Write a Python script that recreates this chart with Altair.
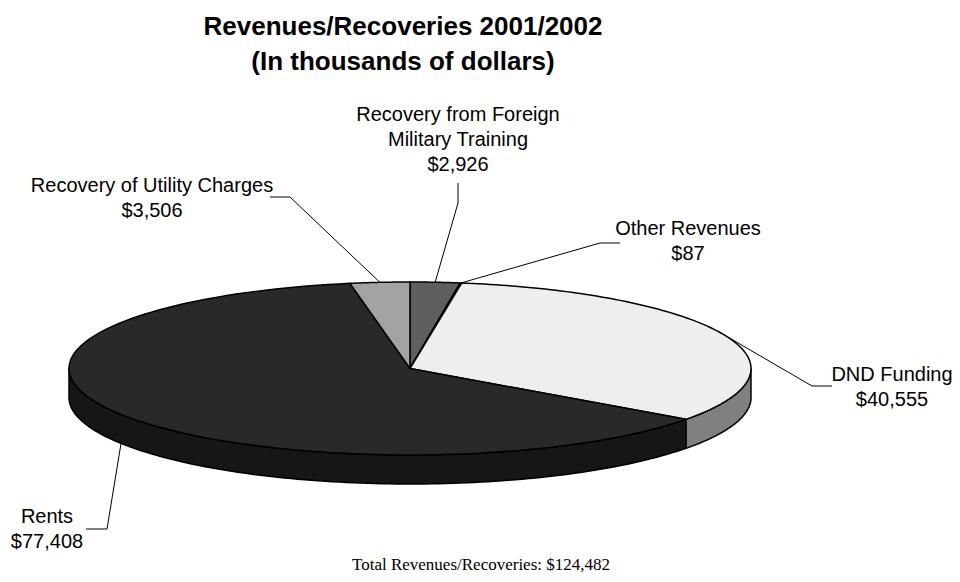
import altair as alt
import numpy as np
import pandas as pd

# ---------------- data ----------------
categories = ["Recovery from Foreign Military Training", "Other Revenues",
              "DND Funding", "Rents", "Recovery of Utility Charges"]
values = [2926, 87, 40555, 77408, 3506]
label_names = ["Recovery from Foreign\nMilitary Training", "Other Revenues",
               "DND Funding", "Rents", "Recovery of Utility Charges"]
title_lines = ["Revenues/Recoveries 2001/2002", "(In thousands of dollars)"]
footer_text = "Total Revenues/Recoveries: $124,482"

# ---------------- styles / layout ----------------
top_colors = ["#5f5f5f", "#bcbcbc", "#eeeeee", "#292929", "#a3a3a3"]
side_colors = ["#3c3c3c", "#8c8c8c", "#808080", "#161616", "#7a7a7a"]
W, H = 960, 582
CX, CY, RX, RY, DEPTH = 410, 368.5, 341, 86.5, 29
N = 120
# order: Foreign, Other, DND, Rents, Utility  (x centre, y of first line)
label_pos = [(458, 115), (688, 229), (892, 375), (47, 517), (152, 186)]
leader_end = [(458, 183), (620, 243), (832, 386), (86, 529), (270, 197)]
leader_elbow = [(458, 203), (600, 243), (812, 386), (107, 529), (290, 197)]
leader_on_rim = [False, False, False, True, False]

xs = alt.Scale(domain=[0, W], range=[0, W])
ys = alt.Scale(domain=[0, H], range=[0, H])
X = lambda f: alt.X(f, scale=xs, axis=None)
Y = lambda f: alt.Y(f, scale=ys, axis=None)

slices = pd.DataFrame({"category": categories, "value": values,
                       "order": list(range(len(values))),
                       "top": top_colors, "side": side_colors})

base = (alt.Chart(slices)
        .transform_window(cum="sum(value)", sort=[alt.SortField("order")], frame=[None, 0])
        .transform_joinaggregate(total="sum(value)")
        .transform_calculate(a1="360*datum.cum/datum.total")
        .transform_calculate(a0="360*(datum.cum-datum.value)/datum.total"))

# top faces of slices
top = (base
       .transform_calculate(idx=f"sequence(-1, {N + 1})")
       .transform_flatten(["idx"])
       .transform_calculate(rad=f"(datum.a0 + (datum.a1-datum.a0)*max(datum.idx,0)/{N})*PI/180")
       .transform_calculate(px=f"datum.idx < 0 ? {CX} : {CX} + {RX}*sin(datum.rad)")
       .transform_calculate(py=f"datum.idx < 0 ? {CY} : {CY} - {RY}*cos(datum.rad)")
       .mark_line(interpolate="linear-closed", stroke="black", strokeWidth=1.5, strokeJoin="round")
       .encode(x=X("px:Q"), y=Y("py:Q"), fill=alt.Fill("top:N", scale=None),
               detail="category:N", order="idx:Q"))

# visible sides (front half)
side = (base
        .transform_calculate(s0="max(datum.a0, 90)")
        .transform_calculate(s1="min(datum.a1, 270)")
        .transform_filter("datum.s1 > datum.s0")
        .transform_calculate(idx=f"sequence(0, {2 * N + 2})")
        .transform_flatten(["idx"])
        .transform_calculate(j=f"datum.idx <= {N} ? datum.idx : {2 * N + 1} - datum.idx")
        .transform_calculate(bottom=f"datum.idx > {N} ? {DEPTH} : 0")
        .transform_calculate(rad=f"(datum.s0 + (datum.s1-datum.s0)*datum.j/{N})*PI/180")
        .transform_calculate(px=f"{CX} + {RX}*sin(datum.rad)")
        .transform_calculate(py=f"{CY} - {RY}*cos(datum.rad) + datum.bottom")
        .mark_line(interpolate="linear-closed", stroke="black", strokeWidth=1.5, strokeJoin="round")
        .encode(x=X("px:Q"), y=Y("py:Q"), fill=alt.Fill("side:N", scale=None),
                detail="category:N", order="idx:Q"))

# leader lines
vals = np.array(values, dtype=float)
cum = np.cumsum(vals)
mids = 360 * (cum - vals / 2) / vals.sum()
rows = []
for i, c in enumerate(categories):
    rows.append({"category": c, "k": 0, "lx": leader_end[i][0], "ly": leader_end[i][1], "mid": mids[i], "rim": leader_on_rim[i]})
    rows.append({"category": c, "k": 1, "lx": leader_elbow[i][0], "ly": leader_elbow[i][1], "mid": mids[i], "rim": leader_on_rim[i]})
    rows.append({"category": c, "k": 2, "lx": 0, "ly": 0, "mid": mids[i], "rim": leader_on_rim[i]})
leaders_df = pd.DataFrame(rows)
leaders = (alt.Chart(leaders_df)
           .transform_calculate(rad="datum.mid*PI/180")
           .transform_calculate(px=f"datum.k == 2 ? {CX} + {RX}*sin(datum.rad) : datum.lx")
           .transform_calculate(py=f"datum.k == 2 ? {CY} - {RY}*cos(datum.rad) + (datum.rim ? {DEPTH} : 0) : datum.ly")
           .mark_line(stroke="black", strokeWidth=1)
           .encode(x=X("px:Q"), y=Y("py:Q"), detail="category:N", order="k:Q"))

# slice labels
labels_df = pd.DataFrame({
    "text": [f"{n}\n${v:,}" for n, v in zip(label_names, values)],
    "x": [p[0] for p in label_pos],
    "y": [p[1] for p in label_pos],
})
labels = (alt.Chart(labels_df)
          .mark_text(font="Liberation Sans", fontSize=20, lineBreak="\n", lineHeight=25,
                     align="center", baseline="middle", color="black")
          .encode(x=X("x:Q"), y=Y("y:Q"), text="text:N"))

title_df = pd.DataFrame({"text": ["\n".join(title_lines)], "x": [403], "y": [27]})
title = (alt.Chart(title_df)
         .mark_text(font="Liberation Sans", fontSize=26, fontWeight="bold", lineBreak="\n",
                    lineHeight=35, align="center", baseline="middle", color="black")
         .encode(x=X("x:Q"), y=Y("y:Q"), text="text:N"))

footer_df = pd.DataFrame({"text": [footer_text], "x": [481], "y": [565]})
footer = (alt.Chart(footer_df)
          .mark_text(font="Liberation Serif", fontSize=17, align="center", baseline="middle", color="black")
          .encode(x=X("x:Q"), y=Y("y:Q"), text="text:N"))

chart = (alt.layer(side, top, leaders, labels, title, footer)
         .properties(width=W, height=H, padding=0,
                     autosize=alt.AutoSizeParams(type="none"),
                     background="white")
         .configure_view(stroke=None))

chart.save("out.html", embed_options={"renderer": "svg", "actions": False})
